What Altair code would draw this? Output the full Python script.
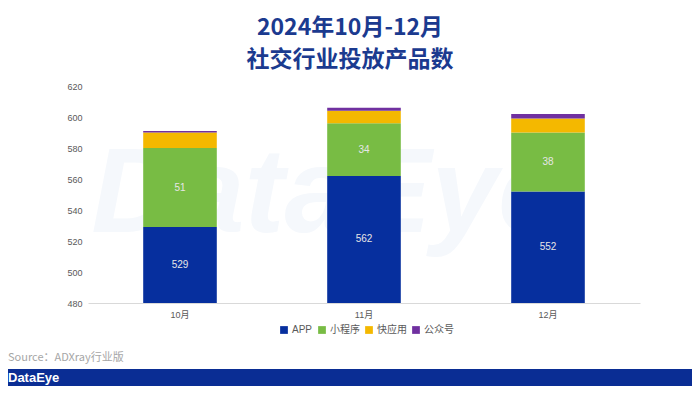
import altair as alt
import pandas as pd

months = ["10月", "11月", "12月"]
series = ["APP", "小程序", "快应用", "公众号"]
app = [529, 562, 552]
mini = [51, 34, 38]
quick = [10, 8, 9]
official = [1, 2, 3]
colors = ["#062F9E", "#78BC44", "#F4B800", "#7030A0"]
y_ticks = [480, 500, 520, 540, 560, 580, 600, 620]

rows = []
for i, m in enumerate(months):
    for j, (s, vals) in enumerate(zip(series, [app, mini, quick, official])):
        rows.append({"month": m, "series": s, "value": vals[i], "ord": j})
df = pd.DataFrame(rows)

FONT = "Arial, 'Liberation Sans', 'Noto Sans CJK SC', sans-serif"
CJK = "'Noto Sans CJK SC', sans-serif"

x_enc = alt.X(
    "month:N", sort=months, title=None,
    scale=alt.Scale(paddingInner=0.6, paddingOuter=0.3),
    axis=alt.Axis(labelAngle=0, ticks=False, domainColor="#d9d9d9", labelColor="#595959",
                  labelFontSize=9, labelPadding=7, labelFont=FONT),
)
y_scale = alt.Scale(domain=[480, 620], nice=False, zero=False)
y_axis = alt.Axis(values=y_ticks, grid=False, domain=False, ticks=False,
                  labelOverlap=False, labelColor="#595959", labelFontSize=9,
                  labelPadding=6, labelFont=FONT)

base = alt.Chart(df)

bars = base.mark_bar(clip=True).encode(
    x=x_enc,
    y=alt.Y("value:Q", stack="zero", scale=y_scale, title=None, axis=y_axis),
    color=alt.Color("series:N", sort=series,
                    scale=alt.Scale(domain=series, range=colors),
                    legend=alt.Legend(title=None, orient="none", legendX=191, legendY=239,
                                      direction="horizontal", symbolType="square", symbolSize=60,
                                      symbolStrokeWidth=0, labelFontSize=10, labelColor="#595959",
                                      labelFont=FONT, columnPadding=4, labelOffset=3)),
    order=alt.Order("ord:Q", sort="ascending"),
)

labels = base.transform_stack(
    stack="value", groupby=["month"], as_=["y0", "y1"],
    sort=[alt.SortField("ord", order="ascending")],
).transform_filter("datum.ord <= 1").transform_calculate(
    mid="(max(datum.y0, 480) + datum.y1) / 2"
).mark_text(color="#E6E6E6", fontSize=10, font=FONT).encode(
    x=x_enc,
    y=alt.Y("mid:Q", scale=y_scale, title=None, axis=y_axis),
    text=alt.Text("value:Q"),
)

dummy = alt.Data(values=[{"k": 1}])

watermark = alt.Chart(dummy).mark_text(
    text="DataEye", fontSize=120, fontWeight="bold", fontStyle="italic",
    color="#F5F8FC", font=FONT, align="center", baseline="middle",
).encode(x=alt.value(240), y=alt.value(110))

source = alt.Chart(dummy).mark_text(
    text="Source：ADXray行业版", fontSize=11, color="#A6A6A6", font=CJK,
    align="left", baseline="middle",
).encode(x=alt.value(-80), y=alt.value(272))

banner = alt.Chart(dummy).mark_rect(color="#0A2D94").encode(
    x=alt.value(-85), x2=alt.value(609), y=alt.value(283), y2=alt.value(300)
)

banner_text = alt.Chart(dummy).mark_text(
    text="DataEye", fontSize=13, fontWeight="bold", color="white", font=FONT,
    align="left", baseline="middle",
).encode(x=alt.value(-80), y=alt.value(292))

chart = alt.layer(watermark, bars, labels, source, banner, banner_text).properties(
    width=552, height=217,
    autosize="none",
    background="white",
    padding={"left": 80, "top": 78, "right": 52, "bottom": 83},
    title=alt.TitleParams(
        ["2024年10月-12月", "社交行业投放产品数"], fontSize=23, font=CJK, fontWeight="bold",
        color="#1B3A8F", anchor="middle", dx=-14, offset=10, lineHeight=32,
    ),
).configure_view(stroke=None)

chart.save("out.html", embed_options={"renderer": "svg", "actions": False})
